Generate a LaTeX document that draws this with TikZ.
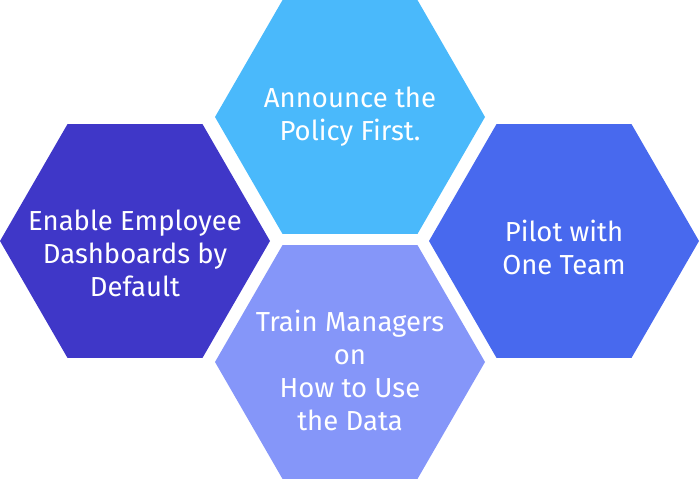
\documentclass[tikz,border=0pt]{standalone}
\usepackage{fontspec}
\setmainfont{Fira Sans}
\usetikzlibrary{shapes.geometric}
\definecolor{skyhex}{HTML}{4AB9FB}
\definecolor{indigohex}{HTML}{3F37C8}
\definecolor{royalhex}{HTML}{4869EE}
\definecolor{periwinklehex}{HTML}{8596F9}
\begin{document}
\begin{tikzpicture}[x=1pt, y=-1pt,
    hexa/.style={regular polygon, regular polygon sides=6, minimum size=270pt,
        inner sep=0pt, outer sep=0pt, draw=none},
    caption/.style={text=white, align=center, inner sep=0pt,
        font=\fontsize{27.5}{33}\selectfont}]
    % Frame
    \useasboundingbox (0,0) rectangle (700,480);
    % Hexagons
    \node[hexa, fill=skyhex] (announce) at (350,117) {};
    \node[hexa, fill=indigohex] (dashboards) at (135,241) {};
    \node[hexa, fill=royalhex] (pilot) at (564,241) {};
    \node[hexa, fill=periwinklehex] (train) at (350,362) {};
    % Texts
    \node[caption] (announcetext) at (announce) {Announce the\\Policy First.};
    \node[caption, yshift=-12pt] (dashboardstext) at (dashboards) {Enable Employee\\Dashboards by\\Default};
    \node[caption, yshift=-6pt] (pilottext) at (pilot) {Pilot with\\One Team};
    \node[caption, yshift=-8pt] (traintext) at (train) {Train Managers\\on\\How to Use\\the Data};
\end{tikzpicture}
\end{document}
